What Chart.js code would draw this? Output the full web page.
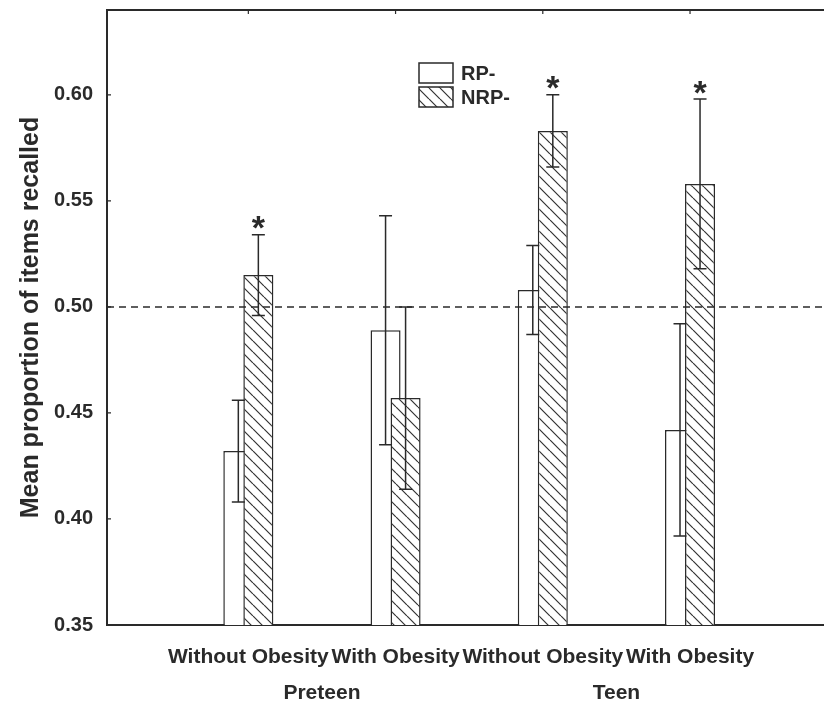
<!DOCTYPE html>
<html>
<head>
<meta charset="utf-8">
<title>Mean proportion of items recalled</title>
<script src="https://cdn.jsdelivr.net/npm/chart.js@4.4.1/dist/chart.umd.min.js"></script>
<style>
  html,body{margin:0;padding:0;background:#fff;}
  #wrap{width:824px;height:705px;position:relative;}
</style>
</head>
<body>
<div id="wrap"><canvas id="chart"></canvas></div>
<script>
/* ── Data ── */
var xLabels     = ['Without Obesity', 'With Obesity', 'Without Obesity', 'With Obesity'];
var groupLabels = ['Preteen', 'Teen'];
var seriesNames = ['RP-', 'NRP-'];
var rpMeans  = [0.432, 0.489, 0.508, 0.442];
var rpErr    = [0.024, 0.054, 0.021, 0.050];
var nrpMeans = [0.515, 0.457, 0.583, 0.558];
var nrpErr   = [0.019, 0.043, 0.017, 0.040];
var nrpSig   = [true, false, true, true];
var yTicks   = [0.35, 0.40, 0.45, 0.50, 0.55, 0.60];
var refLine  = 0.50;

var INK = '#2a2a2a';
var FONT = "'Liberation Sans', Arial, sans-serif";
Chart.defaults.font.family = FONT;
Chart.defaults.color = INK;

// diagonal hatch "\\\" on white, used for the NRP- bars
function makeHatch(){
  var s = 11;
  var c = document.createElement('canvas');
  c.width = s; c.height = s;
  var g = c.getContext('2d');
  g.fillStyle = '#fff';
  g.fillRect(0, 0, s, s);
  g.strokeStyle = '#333';
  g.lineWidth = 1.2;
  g.beginPath();
  [-s, 0, s].forEach(function(o){ g.moveTo(o, 0); g.lineTo(o + s, s); });
  g.stroke();
  return g.createPattern(c, 'repeat');
}
var hatch = makeHatch();

function pts(vals){
  return vals.map(function(v, i){ return {x: i + 1, y: v}; });
}

/* ── Plugins ── */
// RP- bars sit behind NRP- bars: draw RP- first, skip it in the normal pass
var drawOrder = {
  id: 'drawOrder',
  beforeDatasetsDraw: function(chart){
    var ctx = chart.ctx, a = chart.chartArea;
    ctx.save();
    ctx.beginPath();
    ctx.rect(a.left, a.top, a.right - a.left, a.bottom - a.top);
    ctx.clip();
    chart.getDatasetMeta(0).controller.draw();
    ctx.restore();
  },
  beforeDatasetDraw: function(chart, args){
    if(args.index === 0) return false;
  }
};

var decorations = {
  id: 'decorations',
  afterDatasetsDraw: function(chart){
    var ctx = chart.ctx, a = chart.chartArea;
    var xs = chart.scales.x, ys = chart.scales.y;
    ctx.save();

    // top frame line + inward ticks
    ctx.strokeStyle = INK;
    ctx.lineWidth = 2;
    ctx.beginPath();
    ctx.moveTo(a.left, a.top); ctx.lineTo(a.right, a.top);
    ctx.stroke();
    ctx.lineWidth = 1.2;
    ctx.beginPath();
    xLabels.forEach(function(_, i){
      var px = xs.getPixelForValue(i + 1);
      ctx.moveTo(px, a.top); ctx.lineTo(px, a.top + 4);
    });
    yTicks.forEach(function(v){
      var py = ys.getPixelForValue(v);
      ctx.moveTo(a.left, py); ctx.lineTo(a.left + 4, py);
    });
    ctx.stroke();

    // dashed reference line
    var ry = ys.getPixelForValue(refLine);
    ctx.setLineDash([7, 5]);
    ctx.lineWidth = 1.5;
    ctx.beginPath();
    ctx.moveTo(a.left, ry); ctx.lineTo(a.right, ry);
    ctx.stroke();
    ctx.setLineDash([]);

    // error bars
    var errs = [rpErr, nrpErr];
    ctx.lineWidth = 1.5;
    chart.data.datasets.forEach(function(ds, di){
      chart.getDatasetMeta(di).data.forEach(function(bar, i){
        var v = ds.data[i].y, e = errs[di][i];
        var t = ys.getPixelForValue(v + e), b = ys.getPixelForValue(v - e);
        ctx.beginPath();
        ctx.moveTo(bar.x, t); ctx.lineTo(bar.x, b);
        ctx.moveTo(bar.x - 6.5, t); ctx.lineTo(bar.x + 6.5, t);
        ctx.moveTo(bar.x - 6.5, b); ctx.lineTo(bar.x + 6.5, b);
        ctx.stroke();
      });
    });

    // significance stars above NRP- error bars
    ctx.fillStyle = INK;
    ctx.font = 'bold 34px ' + FONT;
    ctx.textAlign = 'center';
    ctx.textBaseline = 'alphabetic';
    var m = ctx.measureText('*');
    var half = (m.actualBoundingBoxAscent - m.actualBoundingBoxDescent) / 2;
    chart.getDatasetMeta(1).data.forEach(function(bar, i){
      if(!nrpSig[i]) return;
      var capY = ys.getPixelForValue(nrpMeans[i] + nrpErr[i]);
      ctx.fillText('*', bar.x, capY - 12 + half);
    });

    // legend (inside plot)
    var lx = a.left + 312, ly = a.top + 53;
    ctx.font = 'bold 20px ' + FONT;
    ctx.textAlign = 'left';
    ctx.textBaseline = 'middle';
    chart.data.datasets.forEach(function(ds, di){
      var by = ly + di * 24;
      ctx.fillStyle = ds.backgroundColor;
      ctx.fillRect(lx, by, 34, 20);
      ctx.strokeStyle = INK;
      ctx.lineWidth = 1.5;
      ctx.strokeRect(lx, by, 34, 20);
      ctx.fillStyle = INK;
      ctx.fillText(ds.label, lx + 42, by + 11);
    });

    // group labels under the tick labels
    ctx.font = 'bold 21px ' + FONT;
    ctx.textAlign = 'center';
    groupLabels.forEach(function(g, gi){
      var p1 = xs.getPixelForValue(gi * 2 + 1), p2 = xs.getPixelForValue(gi * 2 + 2);
      ctx.fillText(g, (p1 + p2) / 2, a.bottom + 68);
    });

    ctx.restore();
  }
};

/* ── Chart ── */
var chart = new Chart(document.getElementById('chart'), {
  type: 'bar',
  data: {
    datasets: [
      {label: seriesNames[0], data: pts(rpMeans), backgroundColor: '#fff',
       borderColor: INK, borderWidth: 1.5},
      {label: seriesNames[1], data: pts(nrpMeans), backgroundColor: hatch,
       borderColor: INK, borderWidth: 1.5}
    ]
  },
  options: {
    responsive: true,
    maintainAspectRatio: false,
    devicePixelRatio: 1,
    animation: false,
    categoryPercentage: 0.272,
    barPercentage: 1.5,
    layout: {padding: {top: 10, right: 0, bottom: 0, left: 0}},
    plugins: {legend: {display: false}, tooltip: {enabled: false}},
    scales: {
      x: {
        type: 'linear',
        offset: false,
        min: 0.04, max: 4.91,
        grid: {display: false, drawTicks: false, offset: false},
        border: {display: true, color: INK, width: 2},
        afterBuildTicks: function(s){
          s.ticks = xLabels.map(function(_, i){ return {value: i + 1}; });
        },
        afterFit: function(s){
          s.height = 80;
          s.paddingLeft = 0; s.paddingRight = 0;
        },
        ticks: {
          autoSkip: false, maxRotation: 0, minRotation: 0, padding: 20,
          color: INK, font: {size: 21, weight: 'bold'},
          callback: function(v){ return xLabels[v - 1]; }
        }
      },
      y: {
        min: 0.35, max: 0.64,
        grid: {display: false, drawTicks: false},
        border: {display: true, color: INK, width: 2},
        afterBuildTicks: function(s){
          s.ticks = yTicks.map(function(v){ return {value: v}; });
        },
        afterFit: function(s){
          s.width = 107;
          s.paddingTop = 0; s.paddingBottom = 0;
        },
        ticks: {
          padding: 14, color: INK, font: {size: 20, weight: 'bold'},
          callback: function(v){ return v.toFixed(2); }
        },
        title: {
          display: true, text: 'Mean proportion of items recalled',
          color: INK, font: {size: 25, weight: 'bold'},
          padding: {top: 16, bottom: 0}
        }
      }
    }
  },
  plugins: [drawOrder, decorations]
});
</script>
</body>
</html>
